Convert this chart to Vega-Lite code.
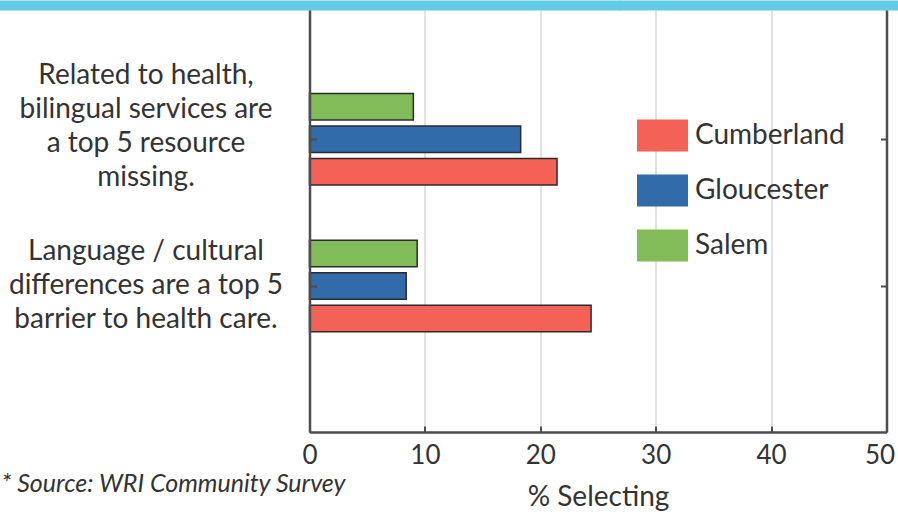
{
  "$schema": "https://vega.github.io/schema/vega-lite/v6.json",
  "width": 577,
  "height": 422,
  "autosize": {"type": "none"},
  "padding": {"left": 309.5, "top": 10, "right": 11.5, "bottom": 80},
  "background": "white",
  "config": {"font": "Lato", "view": {"stroke": null}},
  "title": {
    "text": "* Source: WRI Community Survey",
    "orient": "bottom",
    "anchor": "start",
    "frame": "group",
    "fontStyle": "italic",
    "fontWeight": "normal",
    "fontSize": 25,
    "color": "#333333",
    "dx": -308,
    "dy": -39,
    "offset": 0
  },
  "data": {
    "values": [
      {"item": "Related to health,|bilingual services are|a top 5 resource|missing.", "county": "Cumberland", "pct": 21.45},
      {"item": "Related to health,|bilingual services are|a top 5 resource|missing.", "county": "Gloucester", "pct": 18.3},
      {"item": "Related to health,|bilingual services are|a top 5 resource|missing.", "county": "Salem", "pct": 9.0},
      {"item": "Language / cultural|differences are a top 5|barrier to health care.", "county": "Cumberland", "pct": 24.4},
      {"item": "Language / cultural|differences are a top 5|barrier to health care.", "county": "Gloucester", "pct": 8.38},
      {"item": "Language / cultural|differences are a top 5|barrier to health care.", "county": "Salem", "pct": 9.33}
    ]
  },
  "layer": [
    {
      "mark": {"type": "bar", "stroke": "#2b2b2b", "strokeWidth": 1.5},
      "encoding": {
        "y": {
          "field": "item",
          "type": "nominal",
          "sort": null,
          "scale": {"paddingInner": 0, "paddingOuter": 0.438, "align": 0.435},
          "axis": {
            "orient": "left",
            "title": null,
            "domainColor": "#4d4d4d",
            "domainWidth": 2.5,
            "tickColor": "#4d4d4d",
            "tickWidth": 2,
            "tickSize": -7,
            "labelExpr": "split(datum.label, '|')",
            "labelAlign": "center",
            "labelBaseline": "middle",
            "labelFontSize": 28,
            "labelLineHeight": 34,
            "labelColor": "#333333",
            "labelPadding": 171,
            "labelLimit": 0,
            "labelOffset": {"condition": {"test": "indexof(datum.value, 'Related') == 0", "value": -63}, "value": -34},
            "zindex": 1
          }
        },
        "yOffset": {
          "field": "county",
          "type": "nominal",
          "sort": ["Salem", "Gloucester", "Cumberland"],
          "scale": {"paddingInner": 0.185, "paddingOuter": 0.85}
        },
        "x": {
          "field": "pct",
          "type": "quantitative",
          "scale": {"domain": [0, 50]},
          "axis": {
            "orient": "bottom",
            "title": "% Selecting",
            "values": [0, 10, 20, 30, 40, 50],
            "domainColor": "#4d4d4d",
            "domainWidth": 2.5,
            "tickColor": "#4d4d4d",
            "tickWidth": 2,
            "tickSize": -6,
            "grid": true,
            "gridColor": "#e2e2e2",
            "gridWidth": 2,
            "labelFontSize": 26,
            "labelColor": "#333333",
            "labelPadding": 16,
            "labelFlush": false,
            "labelOverlap": false,
            "labelOffset": {"condition": {"test": "datum.value == 50", "value": -7}, "value": 0},
            "titleFontSize": 28,
            "titleFontWeight": "normal",
            "titleColor": "#333333",
            "titlePadding": 15
          }
        },
        "color": {
          "field": "county",
          "type": "nominal",
          "scale": {"domain": ["Cumberland", "Gloucester", "Salem"], "range": ["#F46257", "#316BAA", "#82BC59"]},
          "legend": {
            "orient": "none",
            "legendX": 327.5,
            "legendY": 100,
            "title": null,
            "padding": 0,
            "symbolType": "M-1,-0.627H1V0.627H-1Z",
            "symbolSize": 2601,
            "symbolStrokeWidth": 0,
            "symbolOpacity": 1,
            "labelFontSize": 28,
            "labelColor": "#333333",
            "labelOffset": 7,
            "rowPadding": 13
          }
        }
      }
    },
    {
      "mark": {"type": "bar", "opacity": 0},
      "encoding": {
        "y": {
          "field": "item",
          "type": "nominal",
          "sort": null,
          "axis": {
            "orient": "right",
            "title": null,
            "labels": false,
            "grid": false,
            "domainColor": "#4d4d4d",
            "domainWidth": 2.5,
            "tickColor": "#4d4d4d",
            "tickWidth": 2,
            "tickSize": -6
          }
        },
        "x": {
          "field": "pct",
          "type": "quantitative",
          "axis": {
            "orient": "top",
            "title": null,
            "values": [0, 50],
            "labels": false,
            "domain": false,
            "grid": false,
            "ticks": true,
            "tickSize": 10,
            "tickOpacity": 1,
            "tickWidth": {"condition": {"test": "datum.value == 0", "value": 621}, "value": 535},
            "tickColor": "#63CBE3"
          }
        }
      }
    }
  ],
  "resolve": {"axis": {"x": "independent", "y": "independent"}}
}
